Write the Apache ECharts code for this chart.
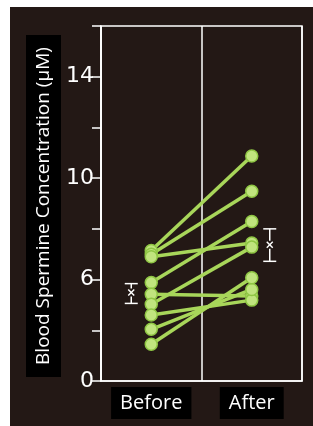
<!DOCTYPE html>
<html>
<head>
<meta charset="utf-8">
<script src="https://cdn.jsdelivr.net/npm/echarts@6/dist/echarts.min.js"></script>
<style>
  html, body { margin: 0; padding: 0; background: #fff; }
  #chart { position: absolute; left: 10px; top: 7px; width: 303px; height: 419px; }
</style>
</head>
<body>
<div id="chart"></div>
<script>
// data
var categories = ['Before', 'After']
var beforeValues = [7.15, 7.0, 6.9, 5.88, 5.42, 5.03, 4.6, 4.04, 3.45]
var afterValues = [10.87, 9.48, 7.44, 8.29, 5.35, 7.28, 5.19, 5.61, 6.07]
var meanValues = [5.49, 7.37]
var errLow = [5.06, 6.72]
var errHigh = [5.84, 8.0]
// axis starts at 2 but is labelled 0 (broken axis)
var tickLabels = { 2: '0', 6: '6', 10: '10', 14: '14' }
var yTitle = 'Blood Spermine Concentration (\u03bcM)'

var white = '#ffffff'
var green = '#a8d65a'
var barOffsets = [-20, 18]

var chart = echarts.init(document.getElementById('chart'))

var series = []
beforeValues.forEach(function (v, i) {
  series.push({
    type: 'line',
    data: [v, afterValues[i]],
    symbol: 'circle',
    symbolSize: 12,
    lineStyle: { color: green, width: 3.5 },
    itemStyle: { color: '#c0e47e', borderColor: '#8fc644', borderWidth: 1.5 },
    emphasis: { disabled: true },
    z: 3
  })
})

series.push({
  type: 'custom',
  data: meanValues.map(function (m, i) { return [i, m, errLow[i], errHigh[i]] }),
  renderItem: function (params, api) {
    var idx = api.value(0)
    var mid = api.coord([idx, api.value(1)])
    var lo = api.coord([idx, api.value(2)])
    var hi = api.coord([idx, api.value(3)])
    var x = mid[0] + barOffsets[idx]
    var cap = 6.5
    var s = 3
    var st = { stroke: white, lineWidth: 1.5 }
    return {
      type: 'group',
      children: [
        { type: 'line', shape: { x1: x, y1: hi[1], x2: x, y2: mid[1] - 4 }, style: st },
        { type: 'line', shape: { x1: x, y1: mid[1] + 4, x2: x, y2: lo[1] }, style: st },
        { type: 'line', shape: { x1: x - cap, y1: hi[1], x2: x + cap, y2: hi[1] }, style: st },
        { type: 'line', shape: { x1: x - cap, y1: lo[1], x2: x + cap, y2: lo[1] }, style: st },
        { type: 'line', shape: { x1: x - s, y1: mid[1] - s, x2: x + s, y2: mid[1] + s }, style: st },
        { type: 'line', shape: { x1: x - s, y1: mid[1] + s, x2: x + s, y2: mid[1] - s }, style: st }
      ]
    }
  },
  z: 4
})

chart.setOption({
  backgroundColor: '#231815',
  animation: false,
  grid: {
    left: 91,
    right: 11,
    top: 19,
    bottom: 45,
    show: true,
    borderColor: white,
    borderWidth: 1.5
  },
  xAxis: {
    type: 'category',
    data: categories,
    boundaryGap: true,
    axisLine: { lineStyle: { color: white, width: 1.5 } },
    axisTick: { show: false },
    splitLine: { show: true, interval: 0, lineStyle: { color: white, width: 1.5 } },
    axisLabel: {
      color: white,
      fontFamily: 'Open Sans',
      fontSize: 20,
      backgroundColor: '#000',
      padding: [6, 9, 6, 9],
      margin: 6,
      interval: 0
    }
  },
  yAxis: {
    type: 'value',
    min: 2,
    max: 16,
    interval: 2,
    axisLine: { show: true, lineStyle: { color: white, width: 1.5 } },
    axisTick: { show: true, length: 9, lineStyle: { color: white, width: 1.5 } },
    splitLine: { show: false },
    axisLabel: {
      color: white,
      fontFamily: 'DejaVu Sans',
      fontSize: 22,
      fontWeight: 500,
      margin: 7,
      formatter: function (v) { return tickLabels[v] || '' }
    }
  },
  graphic: [
    {
      type: 'rect',
      shape: { x: 16, y: 28, width: 35, height: 342 },
      style: { fill: '#000' }
    },
    {
      type: 'text',
      x: 34,
      y: 199,
      rotation: Math.PI / 2,
      style: {
        text: yTitle,
        fill: white,
        fontFamily: 'Open Sans',
        fontSize: 19,
        align: 'center',
        verticalAlign: 'middle'
      }
    }
  ],
  series: series
})
</script>
</body>
</html>
